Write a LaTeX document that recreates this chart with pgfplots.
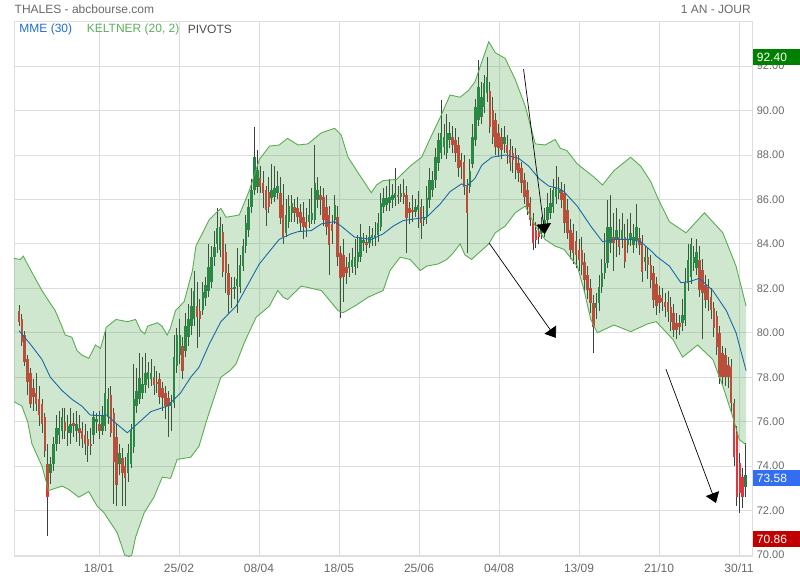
\documentclass[border=0pt]{standalone}
\usepackage{fontspec}
\setmainfont{Liberation Sans}
\usepackage{pgfplots}
\usepackage{pgfplotstable}
\pgfplotsset{compat=1.18}
\usepgfplotslibrary{fillbetween}
\usetikzlibrary{arrows.meta}

\definecolor{gridc}{RGB}{222,222,222}
\definecolor{txtc}{RGB}{105,105,105}
\definecolor{upc}{RGB}{36,128,72}
\definecolor{downc}{RGB}{228,52,58}
\definecolor{wickc}{RGB}{60,60,60}
\definecolor{bandc}{RGB}{60,160,60}
\definecolor{bandline}{RGB}{95,175,85}
\definecolor{emac}{RGB}{25,105,170}
\definecolor{legblue}{RGB}{30,110,210}
\definecolor{leggreen}{RGB}{90,175,90}
\definecolor{boxg}{RGB}{0,128,0}
\definecolor{boxb}{RGB}{50,110,240}
\definecolor{boxr}{RGB}{192,0,0}

% daily candles: index, open, high, low, close
\pgfplotstableread{
i o h l c
0 81.00 81.25 80.30 80.50
1 80.60 80.85 79.40 79.60
2 79.90 80.10 78.50 78.70
3 78.80 79.00 77.20 77.80
4 78.20 78.40 76.60 76.80
5 77.50 77.90 76.50 77.10
6 77.30 78.20 76.50 76.80
7 77.00 77.60 75.80 76.30
8 76.80 77.00 75.50 75.90
9 76.20 76.40 74.40 74.70
10 74.10 75.00 70.86 72.60
11 73.70 74.40 73.20 74.10
12 74.10 75.30 73.80 75.00
13 75.00 76.30 74.70 75.70
14 75.40 76.50 75.00 75.70
15 75.60 76.60 75.20 76.20
16 76.00 76.60 75.20 75.60
17 75.50 76.30 74.90 75.80
18 75.50 76.60 75.00 75.90
19 75.95 76.40 75.30 75.80
20 75.60 76.50 75.10 75.90
21 75.70 76.30 74.90 75.50
22 75.60 76.00 74.80 75.20
23 75.40 75.90 74.50 75.00
24 75.20 75.60 74.20 74.90
25 75.00 75.70 74.50 74.90
26 75.40 76.50 75.00 76.20
27 76.00 76.40 75.50 76.10
28 75.90 76.50 75.20 75.60
29 75.60 76.70 75.40 76.30
30 75.80 80.10 75.60 77.30
31 76.20 77.50 75.90 77.00
32 77.20 77.60 75.30 75.50
33 76.40 76.60 72.30 74.20
34 75.30 75.90 72.20 73.15
35 74.10 75.00 73.60 74.60
36 74.35 74.80 72.20 73.70
37 74.00 74.40 72.20 73.45
38 73.70 75.00 73.30 74.60
39 74.10 75.90 73.90 75.60
40 74.85 78.60 74.60 77.00
41 76.70 78.40 76.40 77.40
42 77.00 79.10 76.80 77.95
43 77.30 78.90 77.00 77.70
44 77.65 79.10 77.30 78.20
45 77.90 78.70 77.50 78.25
46 77.90 78.80 77.60 78.20
47 78.00 78.50 77.20 77.65
48 77.80 78.30 77.30 77.70
49 77.90 78.20 76.80 77.10
50 77.50 77.80 76.50 77.05
51 77.30 77.60 76.10 76.70
52 77.05 77.40 75.30 76.70
53 76.70 77.20 75.60 76.90
54 76.85 79.90 76.60 78.90
55 78.50 80.20 78.20 79.90
56 79.00 80.60 78.60 79.90
57 79.40 79.80 77.90 78.30
58 79.20 80.90 78.90 80.30
59 79.80 81.30 79.40 80.60
60 80.30 82.00 79.90 81.20
61 80.60 82.80 80.30 81.90
62 81.20 82.30 79.30 80.70
63 81.00 81.50 79.80 80.60
64 81.03 82.30 80.80 81.85
65 81.55 82.50 81.20 82.15
66 81.90 84.00 81.60 82.98
67 82.30 83.90 82.00 83.43
68 83.40 84.60 83.00 83.88
69 84.00 85.60 83.60 84.70
70 83.73 85.20 83.40 84.78
71 84.55 84.90 82.50 82.75
72 83.65 84.00 81.80 82.68
73 82.70 83.10 80.90 81.70
74 82.00 82.50 81.10 81.95
75 81.95 82.50 81.50 82.05
76 82.10 83.80 80.90 82.40
77 82.08 83.50 81.80 83.05
78 83.00 84.20 82.80 83.90
79 83.90 85.30 83.60 84.93
80 84.63 86.00 84.30 85.68
81 85.68 86.90 85.40 86.43
82 86.43 89.28 86.20 87.93
83 86.58 88.23 86.30 87.33
84 86.95 87.50 86.30 86.58
85 86.73 87.30 85.60 86.28
86 86.43 86.60 84.80 85.53
87 86.35 87.00 85.40 85.68
88 86.05 87.60 85.80 86.43
89 86.13 87.50 85.90 86.50
90 86.30 87.30 86.00 86.60
91 86.28 87.00 84.90 85.15
92 85.75 86.70 84.00 84.33
93 84.50 86.00 84.30 85.30
94 85.00 86.20 84.70 85.70
95 85.38 86.20 85.00 85.83
96 85.68 86.00 85.00 85.38
97 85.60 86.10 84.90 85.23
98 85.45 85.80 84.60 84.93
99 85.23 85.90 84.20 84.78
100 85.00 85.60 84.30 84.70
101 85.00 86.00 84.70 85.30
102 85.08 86.50 84.90 85.38
103 85.08 88.45 84.90 86.73
104 85.98 87.00 85.60 86.43
105 86.20 86.60 85.30 85.98
106 86.13 86.50 84.80 85.08
107 85.68 86.20 84.40 84.78
108 85.30 85.70 82.60 83.95
109 84.90 85.30 84.00 84.60
110 85.08 86.20 84.90 85.75
111 85.23 85.70 83.00 83.43
112 83.58 83.90 80.65 82.45
113 83.50 84.20 81.40 82.53
114 82.98 83.40 82.20 82.68
115 82.90 83.60 82.50 83.20
116 82.98 83.80 82.70 83.28
117 82.98 84.20 82.60 83.43
118 83.20 84.40 82.90 83.65
119 83.43 84.90 83.20 84.33
120 84.03 84.50 83.70 84.18
121 84.08 84.40 83.60 83.95
122 84.03 84.80 83.80 84.33
123 84.25 84.70 83.90 84.40
124 84.25 85.00 83.90 84.40
125 84.40 85.40 84.10 84.93
126 84.78 86.30 84.60 85.83
127 85.68 86.50 85.40 86.05
128 85.75 86.60 85.50 86.05
129 85.83 86.90 85.50 86.13
130 85.98 86.70 85.60 86.20
131 86.05 87.40 85.70 86.28
132 86.20 86.60 85.80 86.13
133 86.13 86.70 85.90 86.28
134 86.28 86.90 85.80 86.10
135 86.20 86.60 83.58 85.15
136 85.60 85.90 84.90 85.38
137 85.53 86.20 85.00 85.45
138 85.45 86.00 85.20 85.68
139 85.53 86.40 84.70 85.75
140 85.68 86.00 84.20 84.93
141 85.08 85.70 84.80 85.23
142 85.23 86.60 84.90 86.05
143 85.98 87.40 85.60 86.88
144 86.43 87.30 86.10 86.88
145 86.88 88.30 86.50 87.93
146 87.63 89.00 87.30 88.68
147 88.08 90.48 87.80 88.98
148 88.38 89.40 88.00 88.83
149 88.08 89.85 87.80 88.98
150 88.68 89.50 88.30 88.98
151 88.83 89.30 88.10 88.45
152 88.68 89.20 87.70 88.08
153 88.45 88.80 87.00 87.40
154 87.78 88.10 86.90 87.48
155 87.70 88.00 86.20 86.58
156 86.58 86.90 83.60 85.38
157 86.58 87.80 86.30 87.28
158 87.60 89.40 87.40 88.80
159 88.68 90.50 88.40 90.18
160 89.58 92.28 89.30 91.08
161 89.73 91.30 89.40 90.63
162 90.18 91.60 89.90 91.23
163 90.78 92.40 90.40 91.53
164 90.90 91.30 89.00 89.28
165 90.03 90.60 88.50 88.83
166 89.58 89.90 88.00 88.38
167 88.98 89.40 87.90 88.30
168 88.83 89.20 87.80 88.23
169 88.50 89.30 88.10 88.83
170 88.45 88.90 87.60 88.08
171 88.23 88.70 87.30 87.63
172 88.08 88.40 87.20 87.78
173 88.00 88.30 86.90 87.33
174 87.63 88.00 86.80 87.18
175 87.40 87.70 86.30 86.73
176 86.88 87.20 85.80 86.13
177 86.43 86.80 85.30 85.68
178 85.83 86.10 84.80 85.08
179 85.08 85.40 83.73 84.03
180 84.63 85.00 83.80 84.18
181 84.55 84.90 84.00 84.33
182 84.48 85.20 84.20 84.78
183 84.63 85.60 84.30 85.08
184 85.08 86.30 84.80 85.68
185 85.38 86.50 85.10 85.83
186 85.68 86.90 85.40 86.43
187 86.13 87.50 85.80 86.58
188 86.28 87.00 86.00 86.43
189 86.43 86.80 85.60 85.98
190 86.28 86.70 84.50 84.93
191 85.53 86.00 84.20 84.48
192 84.63 85.10 83.30 83.73
193 84.48 84.90 83.10 83.58
194 84.13 84.60 82.90 83.50
195 83.73 84.20 82.80 83.28
196 83.73 84.30 82.60 83.05
197 83.20 83.60 81.90 82.38
198 82.60 83.00 81.50 81.93
199 82.00 82.40 80.90 81.33
200 81.33 81.70 79.08 80.28
201 81.10 81.80 80.60 81.33
202 81.33 82.60 81.00 82.08
203 82.08 83.30 81.80 82.68
204 82.68 84.50 82.40 83.13
205 83.13 85.98 82.90 84.78
206 84.03 86.20 83.60 84.78
207 84.33 85.40 82.80 84.03
208 84.18 85.60 83.40 84.63
209 84.33 85.10 83.50 83.88
210 84.18 85.40 83.80 84.63
211 84.33 84.90 82.90 83.20
212 83.95 85.10 83.60 84.18
213 84.18 85.40 83.90 84.48
214 83.95 84.90 83.60 84.33
215 84.18 85.80 83.80 84.78
216 84.25 84.70 83.50 83.95
217 84.03 84.40 82.30 82.75
218 83.20 83.90 82.80 83.43
219 83.43 83.80 82.40 83.05
220 83.05 83.50 82.00 82.38
221 82.68 83.00 81.10 81.48
222 82.20 82.50 80.80 81.20
223 81.70 82.10 80.90 81.33
224 81.55 82.00 81.00 81.40
225 81.40 81.80 80.70 81.18
226 81.40 81.90 80.50 80.95
227 81.18 81.60 80.10 80.50
228 80.88 81.30 79.80 80.13
229 80.43 80.90 79.70 80.13
230 80.43 80.80 79.90 80.28
231 80.43 81.50 80.10 80.80
232 80.58 82.90 80.30 82.23
233 82.23 84.00 81.90 83.28
234 82.53 84.25 82.20 83.98
235 83.13 83.90 82.80 83.40
236 82.90 84.20 82.60 83.65
237 83.28 83.90 81.60 81.93
238 82.83 83.30 79.70 81.78
239 82.15 82.60 81.10 81.48
240 82.08 82.40 81.00 81.48
241 81.63 82.00 80.60 81.03
242 81.10 81.40 79.80 80.20
243 80.75 81.00 79.00 79.38
244 80.00 80.30 77.70 78.03
245 79.08 79.40 77.60 78.03
246 79.00 79.30 77.60 78.03
247 78.55 78.90 77.50 78.03
248 78.48 78.80 76.40 76.83
249 76.83 77.00 74.00 74.43
250 75.48 75.80 72.20 72.63
251 74.13 74.60 71.90 72.78
252 73.53 73.90 72.10 72.63
253 73.08 75.03 72.60 73.58
}\candles

% Keltner upper band
\pgfplotstableread{
x y
-1.74 83.35
0.5 83.30
1.5 83.45
2.5 83.20
5.0 82.60
8.0 81.90
10.0 81.50
12.6 81.00
14.9 80.30
16.1 79.90
18.4 79.80
20.2 79.20
21.9 79.00
24.3 78.85
26.6 79.45
28.4 79.30
30.4 80.25
33.8 80.60
37.8 80.50
40.6 80.60
42.4 80.10
43.8 79.95
44.8 80.30
48.2 80.45
49.8 80.30
51.6 79.90
52.7 80.20
54.5 81.00
57.5 81.40
60.4 82.80
61.6 83.90
66.3 85.10
70.3 85.60
72.1 85.20
76.7 85.30
80.2 86.40
83.7 87.80
87.2 88.40
90.6 88.45
93.5 88.75
97.2 88.45
100.6 88.50
105.3 89.00
109.9 89.20
112.2 88.90
114.6 87.90
118.1 87.20
122.7 86.30
124.5 86.65
126.8 86.85
131.5 86.90
136.2 87.50
140.2 87.90
143.2 88.75
146.7 89.70
150.1 90.70
153.6 90.60
156.5 90.90
158.8 91.30
163.6 93.10
165.9 92.60
169.3 92.35
172.8 91.40
176.3 90.20
179.8 88.50
183.2 88.45
186.7 88.70
188.5 88.30
190.8 88.20
194.4 87.60
200.3 87.00
203.2 86.65
207.2 87.30
213.0 87.90
216.5 87.50
220.0 86.80
222.5 86.05
226.5 85.00
232.3 84.50
238.7 85.40
245.1 84.50
249.7 83.00
253.2 81.20
}\kupper

% Keltner lower band
\pgfplotstableread{
x y
-1.74 76.90
1.0 76.70
3.0 76.00
4.5 75.00
8.0 74.00
10.3 72.90
15.0 73.10
17.3 72.95
20.8 72.60
24.3 72.85
27.2 72.20
29.6 71.90
34.2 71.00
36.8 70.00
38.3 69.93
39.3 70.00
40.6 70.80
43.6 71.90
47.0 72.60
49.9 73.50
52.8 73.45
55.1 74.30
59.8 74.40
62.7 74.90
65.7 76.20
70.3 78.00
73.5 78.30
75.6 78.60
78.6 79.60
82.6 80.70
87.2 81.20
90.1 81.90
92.0 81.60
93.5 81.50
98.3 82.10
105.3 81.90
111.1 81.00
112.8 80.90
116.9 81.20
121.6 81.60
126.8 81.90
129.2 82.80
132.7 83.40
136.2 83.30
139.7 82.80
142.0 83.00
146.1 83.10
149.0 83.30
151.3 83.60
153.6 84.00
155.3 83.50
157.6 83.30
163.6 84.00
165.9 84.50
169.3 84.80
172.8 85.40
176.3 85.70
179.8 84.80
183.2 84.20
186.7 83.90
189.8 83.75
194.4 83.00
196.8 81.90
199.1 80.60
201.4 80.00
207.2 80.35
213.0 80.05
218.9 80.40
221.9 80.50
227.7 79.70
231.1 78.90
236.3 79.45
241.6 78.80
245.1 77.60
248.6 76.20
250.8 75.20
253.2 74.95
}\klower

% MME (30)
\pgfplotstableread{
x y
0.0 80.10
4.5 79.40
8.0 78.80
10.9 78.00
15.0 77.40
18.5 77.00
21.9 76.70
24.8 76.30
27.8 76.27
30.6 76.30
33.1 76.00
37.7 75.50
41.2 75.90
45.9 76.45
51.6 76.70
56.3 77.30
59.8 78.00
62.7 78.45
66.3 79.50
70.3 80.50
75.6 81.20
79.0 82.00
83.7 83.10
90.6 84.20
94.7 84.45
97.2 84.55
101.8 84.60
105.3 84.90
109.9 85.00
112.2 84.80
116.9 84.30
122.7 84.20
126.8 84.45
130.3 84.80
133.8 85.05
142.0 85.20
146.7 85.80
150.1 86.35
154.1 86.70
155.9 86.60
158.8 86.95
161.2 87.55
164.7 87.90
169.3 88.00
174.0 87.85
177.5 87.50
181.0 86.95
184.5 86.60
187.9 86.50
189.8 86.35
194.4 85.70
199.1 84.80
203.2 84.10
207.2 84.20
213.0 84.20
216.5 84.10
220.0 83.70
221.9 83.45
226.5 83.00
230.5 82.25
233.4 82.30
236.9 82.45
241.6 81.90
246.3 81.00
249.7 80.00
253.2 78.30
}\kema

\begin{document}
\begin{tikzpicture}[x=1pt,y=1pt]
\path (0,0) rectangle (800,580);
\begin{axis}[
  at={(14pt,24pt)}, anchor=south west,
  scale only axis, width=738pt, height=535pt,
  xmin=-1.74, xmax=255.26, ymin=69.955, ymax=94.03,
  clip=false,
  no markers,
  axis line style={draw=gridc, line width=0.8pt},
  grid=major, grid style={draw=gridc, line width=0.8pt},
  major tick length=0pt,
  xtick={27.86,55.72,83.58,111.44,139.3,167.16,195.02,222.88,250.74},
  xticklabels={18/01,25/02,08/04,18/05,25/06,04/08,13/09,21/10,30/11},
  ytick={70,72,74,76,78,80,82,84,86,88,90,92},
  yticklabel pos=right,
  /pgf/number format/assume math mode=true,
  yticklabel style={/pgf/number format/fixed, /pgf/number format/fixed zerofill,
    /pgf/number format/precision=2, font=\fontsize{11}{13}\selectfont, text=txtc, xshift=1.3pt},
  xticklabel style={font=\fontsize{12}{14}\selectfont, text=txtc, yshift=-4pt},
  fill between/on layer=main,
]
% wicks
\addplot[draw=none, mark=none, forget plot,
  error bars/.cd, y dir=plus, y explicit, error mark=none,
  error bar style={draw=wickc, line width=0.9pt}]
  table[x=i, y=l, y error plus expr=\thisrow{h}-\thisrow{l}] {\candles};
% rising bodies
\addplot[draw=none, mark=none, forget plot, unbounded coords=jump,
  error bars/.cd, y dir=plus, y explicit, error mark=none,
  error bar style={draw=upc, line width=2.5pt}]
  table[x=i, y expr={\thisrow{c}>=\thisrow{o} ? \thisrow{o} : nan},
        y error plus expr={max(\thisrow{c}-\thisrow{o},0.05)}] {\candles};
% falling bodies
\addplot[draw=none, mark=none, forget plot, unbounded coords=jump,
  error bars/.cd, y dir=plus, y explicit, error mark=none,
  error bar style={draw=downc, line width=2.5pt}]
  table[x=i, y expr={\thisrow{c}<\thisrow{o} ? \thisrow{c} : nan},
        y error plus expr={max(\thisrow{o}-\thisrow{c},0.05)}] {\candles};
% Keltner band
\addplot[name path=up, draw=bandline, line width=0.9pt] table[x=x, y=y] {\kupper};
\addplot[name path=lo, draw=bandline, line width=0.9pt] table[x=x, y=y] {\klower};
\addplot[fill=bandc, fill opacity=0.25, draw=none] fill between[of=up and lo];
% MME 30
\addplot[draw=emac, line width=0.9pt] table[x=x, y=y] {\kema};
% hand-drawn arrows
\draw[black, line width=0.7pt, -{Triangle[length=10pt, width=15pt]}] (axis cs:175.7,91.86) -- (axis cs:183.1,84.45);
\draw[black, line width=0.7pt, -{Triangle[length=10pt, width=14pt]}] (axis cs:163.75,84.03) -- (axis cs:187.0,79.77);
\draw[black, line width=0.7pt, -{Triangle[length=10pt, width=14pt]}] (axis cs:225.3,78.36) -- (axis cs:242.7,72.34);
% value boxes
\node[fill=boxg, text=white, anchor=west, inner xsep=4pt, inner ysep=0pt, minimum height=16pt, text width=39pt,
  font=\fontsize{12}{14}\selectfont] at (axis cs:255.5,92.40) {92.40};
\node[fill=boxb, text=white, anchor=west, inner xsep=4pt, inner ysep=0pt, minimum height=16pt, text width=39pt,
  font=\fontsize{12}{14}\selectfont, yshift=-3pt] at (axis cs:255.5,73.58) {73.58};
\node[fill=boxr, text=white, anchor=west, inner xsep=4pt, inner ysep=0pt, minimum height=16pt, text width=39pt,
  font=\fontsize{12}{14}\selectfont, yshift=-3.5pt] at (axis cs:255.5,70.86) {70.86};
\end{axis}
\node[anchor=west, inner sep=0pt, text=txtc, font=\fontsize{12}{14}\selectfont] at (14.5,571) {THALES - abcbourse.com};
\node[anchor=east, inner sep=0pt, text=txtc, font=\fontsize{12}{14}\selectfont] at (751,571) {1 AN - JOUR};
\node[anchor=west, inner sep=0pt, text=legblue, font=\fontsize{12}{14}\selectfont] at (19.3,551) {MME (30)};
\node[anchor=west, inner sep=0pt, text=leggreen, font=\fontsize{12}{14}\selectfont] at (86.7,551) {KELTNER (20, 2)};
\node[anchor=west, inner sep=0pt, text=black!70, font=\fontsize{12}{14}\selectfont] at (187.7,551) {PIVOTS};
\end{tikzpicture}
\end{document}
